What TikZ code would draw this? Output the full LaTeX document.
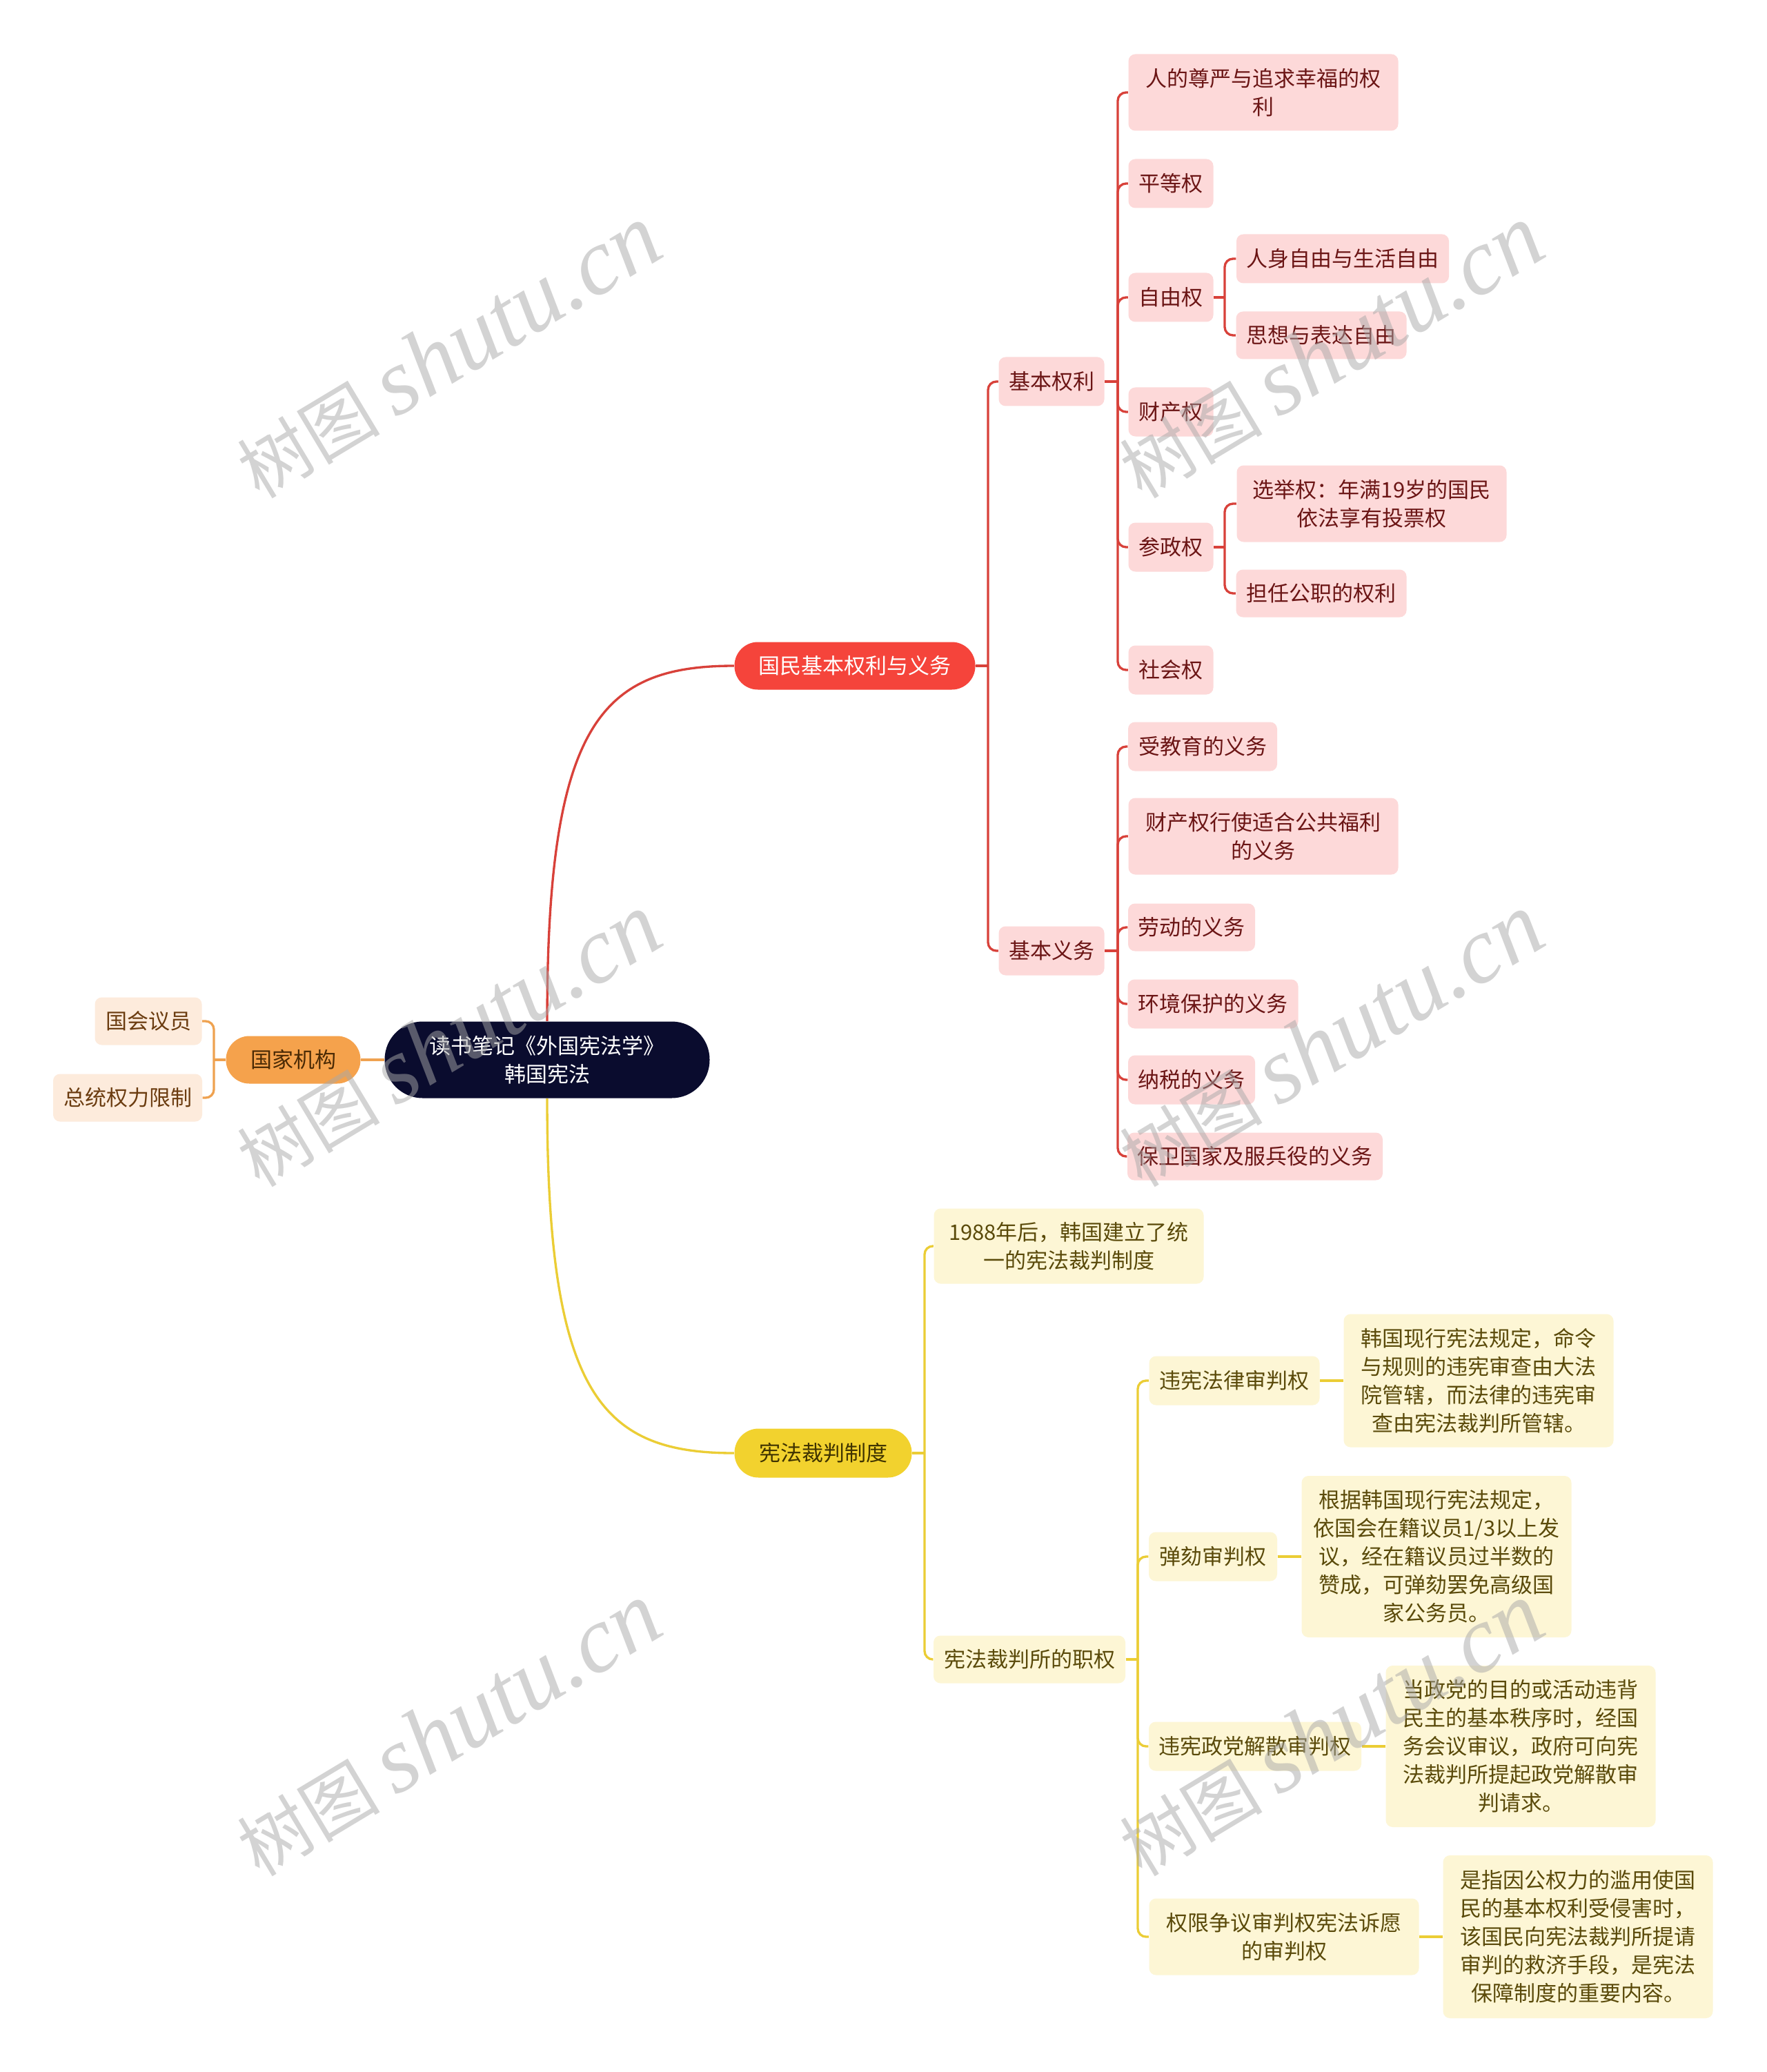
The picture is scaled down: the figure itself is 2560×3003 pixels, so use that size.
\documentclass[tikz,border=0pt]{standalone}
\usepackage{fontspec}
\newfontfamily\cjk{Noto Sans CJK SC}
\newfontfamily\wmlat{Liberation Serif}
\def\u{0.3pt}
\definecolor{rootc}{HTML}{0A0C2E}
\definecolor{redc}{HTML}{F5443B}
\definecolor{redline}{HTML}{D8413A}
\definecolor{pinkc}{HTML}{FDD9D9}
\definecolor{pinktxt}{HTML}{6B1515}
\definecolor{yelc}{HTML}{F2D22E}
\definecolor{yelline}{HTML}{EBCD35}
\definecolor{ylc}{HTML}{FDF6D5}
\definecolor{yltxt}{HTML}{5A4A0A}
\definecolor{yeltxt}{HTML}{3F3300}
\definecolor{orac}{HTML}{F5A24C}
\definecolor{oraline}{HTML}{EFA250}
\definecolor{peachc}{HTML}{FDEBDC}
\definecolor{peachtxt}{HTML}{6B3C10}
\definecolor{oratxt}{HTML}{4A2A05}
\definecolor{wmc}{HTML}{A8A8A8}
\tikzset{
  base/.style={inner sep=0pt, align=center, font=\cjk\fontsize{9.3}{12.3}\selectfont},
  rootbox/.style={base, fill=rootc, text=white, rounded corners=55*\u},
  redbox/.style={base, fill=redc, text=white, rounded corners=34*\u},
  yelbox/.style={base, fill=yelc, text=yeltxt, rounded corners=35*\u},
  orabox/.style={base, fill=orac, text=oratxt, rounded corners=34*\u},
  pinkleaf/.style={base, fill=pinkc, text=pinktxt, rounded corners=10*\u},
  yleaf/.style={base, fill=ylc, text=yltxt, rounded corners=10*\u},
  peachleaf/.style={base, fill=peachc, text=peachtxt, rounded corners=10*\u},
  sz/.style n args={2}{minimum width=#1*\u, minimum height=#2*\u},
  rl/.style={draw=redline, line width=1pt},
  yl/.style={draw=yelline, line width=1pt},
  ol/.style={draw=oraline, line width=1pt},
  br/.style={rounded corners=12*\u},
  wm/.style={text=wmc, text opacity=0.5, rotate=31, inner sep=0pt},
}
\begin{document}
\begin{tikzpicture}[x=0.3pt, y=-0.3pt]
\useasboundingbox (0,0) rectangle (2560,3003);
\fill[white] (0,0) rectangle (2560,3003);

% ---- nodes ----
\node[rootbox, sz={471}{111}] (root) at (793,1536) {读书笔记《外国宪法学》\\韩国宪法};
\node[orabox, sz={195}{69}] (gj) at (425,1536) {国家机构};
\node[peachleaf, sz={155}{69}] (gh) at (215,1480) {国会议员};
\node[peachleaf, sz={216}{69}] (zt) at (185,1591) {总统权力限制};

\node[redbox, sz={349}{69}] (gm) at (1239,965) {国民基本权利与义务};
\node[pinkleaf, sz={153}{71}] (qr) at (1524,553) {基本权利};
\node[pinkleaf, sz={153}{71}] (yw) at (1524,1378) {基本义务};

\node[pinkleaf, sz={391}{111}] (q1) at (1831,134) {人的尊严与追求幸福的权\\利};
\node[pinkleaf, sz={123}{71}] (q2) at (1697,266) {平等权};
\node[pinkleaf, sz={123}{71}] (q3) at (1697,431) {自由权};
\node[pinkleaf, sz={123}{71}] (q4) at (1697,597) {财产权};
\node[pinkleaf, sz={123}{71}] (q5) at (1697,793) {参政权};
\node[pinkleaf, sz={123}{71}] (q6) at (1697,971) {社会权};

\node[pinkleaf, sz={308}{71}] (z1) at (1946,375) {人身自由与生活自由};
\node[pinkleaf, sz={247}{69}] (z2) at (1915,486) {思想与表达自由};
\node[pinkleaf, sz={391}{111}] (c1) at (1988,730) {选举权：年满19岁的国民\\依法享有投票权};
\node[pinkleaf, sz={247}{69}] (c2) at (1915,860) {担任公职的权利};

\node[pinkleaf, sz={216}{71}] (w1) at (1743,1082) {受教育的义务};
\node[pinkleaf, sz={391}{111}] (w2) at (1831,1212) {财产权行使适合公共福利\\的义务};
\node[pinkleaf, sz={184}{69}] (w3) at (1727,1344) {劳动的义务};
\node[pinkleaf, sz={247}{71}] (w4) at (1758,1455) {环境保护的义务};
\node[pinkleaf, sz={184}{71}] (w5) at (1727,1565) {纳税的义务};
\node[pinkleaf, sz={370}{69}] (w6) at (1819,1676) {保卫国家及服兵役的义务};

\node[yelbox, sz={257}{71}] (yc) at (1193,2106) {宪法裁判制度};
\node[yleaf, sz={391}{109}] (y1) at (1549,1806) {1988年后，韩国建立了统\\一的宪法裁判制度};
\node[yleaf, sz={278}{69}] (y2) at (1492,2405) {宪法裁判所的职权};

\node[yleaf, sz={247}{71}] (p1) at (1789,2001) {违宪法律审判权};
\node[yleaf, sz={186}{71}] (p2) at (1758,2256) {弹劾审判权};
\node[yleaf, sz={308}{71}] (p3) at (1819,2531) {违宪政党解散审判权};
\node[yleaf, sz={391}{111}] (p4) at (1861,2807) {权限争议审判权宪法诉愿\\的审判权};

\node[yleaf, sz={391}{193}] (d1) at (2143,2001) {韩国现行宪法规定，命令\\与规则的违宪审查由大法\\院管辖，而法律的违宪审\\查由宪法裁判所管辖。};
\node[yleaf, sz={391}{234}] (d2) at (2082,2256) {根据韩国现行宪法规定，\\依国会在籍议员1/3以上发\\议，经在籍议员过半数的\\赞成，可弹劾罢免高级国\\家公务员。};
\node[yleaf, sz={391}{234}] (d3) at (2204,2531) {当政党的目的或活动违背\\民主的基本秩序时，经国\\务会议审议，政府可向宪\\法裁判所提起政党解散审\\判请求。};
\node[yleaf, sz={391}{236}] (d4) at (2287,2807) {是指因公权力的滥用使国\\民的基本权利受侵害时，\\该国民向宪法裁判所提请\\审判的救济手段，是宪法\\保障制度的重要内容。};

% ---- junction coordinates ----
\coordinate (jg) at (310,1536);
\coordinate (jm) at (1432,965);
\coordinate (jq) at (1620,553);
\coordinate (jw) at (1620,1378);
\coordinate (jz) at (1775,431);
\coordinate (jc) at (1775,793);
\coordinate (jy) at (1340,2106);
\coordinate (jp) at (1649,2405);

% ---- connectors ----
\draw[ol] (root.west) -- (gj.east);
\draw[ol] (gj.west) -- (jg);
\draw[ol, br] (jg) |- (gh.east);
\draw[ol, br] (jg) |- (zt.east);

\draw[rl] (root.north) .. controls (793,1050) and (870,965) .. (gm.west);
\draw[yl] (root.south) .. controls (793,2020) and (870,2106) .. (yc.west);

\draw[rl] (gm.east) -- (jm);
\foreach \c in {qr,yw} \draw[rl, br] (jm) |- (\c.west);
\draw[rl] (qr.east) -- (jq);
\foreach \c in {q1,q2,q3,q4,q5,q6} \draw[rl, br] (jq) |- (\c.west);
\draw[rl] (yw.east) -- (jw);
\foreach \c in {w1,w2,w3,w4,w5,w6} \draw[rl, br] (jw) |- (\c.west);
\draw[rl] (q3.east) -- (jz);
\foreach \c in {z1,z2} \draw[rl, br] (jz) |- (\c.west);
\draw[rl] (q5.east) -- (jc);
\foreach \c in {c1,c2} \draw[rl, br] (jc) |- (\c.west);

\draw[yl] (yc.east) -- (jy);
\foreach \c in {y1,y2} \draw[yl, br] (jy) |- (\c.west);
\draw[yl] (y2.east) -- (jp);
\foreach \c in {p1,p2,p3,p4} \draw[yl, br] (jp) |- (\c.west);
\draw[yl] (p1.east) -- (d1.west);
\draw[yl] (p2.east) -- (d2.west);
\draw[yl] (p3.east) -- (d3.west);
\draw[yl] (p4.east) -- (d4.west);

% ---- watermarks ----
\foreach \n/\x/\y in {a/650/510, b/1929/510, c/650/1508, d/1929/1508, e/650/2507, f/1929/2507}
  \node[wm] (wm\n) at (\x,\y) {\cjk\fontsize{31}{36}\selectfont 树图 {\wmlat\itshape\fontsize{41}{44}\selectfont shutu.cn}};
\end{tikzpicture}
\end{document}
